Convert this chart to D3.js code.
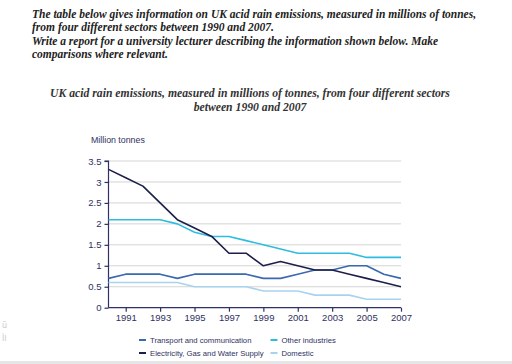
<!DOCTYPE html>
<html>
<head>
<meta charset="utf-8">
<script src="https://cdn.jsdelivr.net/npm/d3@7"></script>
<style>
  body { margin: 0; background: #fff; }
  svg { display: block; }
</style>
</head>
<body>
<div id="chart"></div>
<script>
// data
var years = d3.range(1990, 2008);
var transport   = [0.7, 0.8, 0.8, 0.8, 0.7, 0.8, 0.8, 0.8, 0.8, 0.7, 0.7, 0.8, 0.9, 0.9, 1.0, 1.0, 0.8, 0.7];
var electricity = [3.3, 3.1, 2.9, 2.5, 2.1, 1.9, 1.7, 1.3, 1.3, 1.0, 1.1, 1.0, 0.9, 0.9, 0.8, 0.7, 0.6, 0.5];
var other       = [2.1, 2.1, 2.1, 2.1, 2.0, 1.8, 1.7, 1.7, 1.6, 1.5, 1.4, 1.3, 1.3, 1.3, 1.3, 1.2, 1.2, 1.2];
var domestic    = [0.6, 0.6, 0.6, 0.6, 0.6, 0.5, 0.5, 0.5, 0.5, 0.4, 0.4, 0.4, 0.3, 0.3, 0.3, 0.2, 0.2, 0.2];
var yTicks = [0, 0.5, 1, 1.5, 2, 2.5, 3, 3.5];
var xTicks = [1991, 1993, 1995, 1997, 1999, 2001, 2003, 2005, 2007];

var header = [
  "The table below gives information on UK acid rain emissions, measured in millions of tonnes,",
  "from four different sectors between 1990 and 2007.",
  "Write a report for a university lecturer describing the information shown below. Make",
  "comparisons where relevant."
];
var title = [
  "UK acid rain emissions, measured in millions of tonnes, from four different sectors",
  "between 1990 and 2007"
];

var series = [
  {name: "Transport and communication", values: transport, color: "#3b69ad"},
  {name: "Other industries", values: other, color: "#2cbde0"},
  {name: "Electricity, Gas and Water Supply", values: electricity, color: "#1d1f4b"},
  {name: "Domestic", values: domestic, color: "#a8d3ef"}
];

var width = 512, height = 364;
var svg = d3.select("#chart").append("svg")
  .attr("width", width)
  .attr("height", height);

var textCol = "#2e3163";

// header text
svg.selectAll(".head")
  .data(header)
  .enter().append("text")
    .attr("x", 32)
    .attr("y", function(d, i) { return 18 + [0, 13, 27, 40][i]; })
    .style("font-family", "Liberation Serif, serif")
    .style("font-style", "italic")
    .style("font-weight", "bold")
    .style("font-size", "11.5px")
    .style("fill", "#222")
    .text(function(d) { return d; });

svg.selectAll(".title")
  .data(title)
  .enter().append("text")
    .attr("x", 250)
    .attr("y", function(d, i) { return 97 + i * 14; })
    .attr("text-anchor", "middle")
    .style("font-family", "Liberation Serif, serif")
    .style("font-style", "italic")
    .style("font-weight", "bold")
    .style("font-size", "11.7px")
    .style("fill", "#333")
    .text(function(d) { return d; });

var x = d3.scaleLinear().domain([1990, 2007]).range([108.5, 401]);
var y = d3.scaleLinear().domain([0, 3.5]).range([307.7, 161]);

// grid
svg.selectAll(".grid")
  .data(yTicks.slice(1))
  .enter().append("line")
    .attr("x1", x(1990)).attr("x2", x(2007))
    .attr("y1", function(d) { return y(d); })
    .attr("y2", function(d) { return y(d); })
    .style("stroke", "#d4d4d4")
    .style("stroke-width", 1);

svg.append("text")
  .attr("x", 91).attr("y", 143)
  .style("font-family", "Liberation Sans, Arial, sans-serif")
  .style("font-size", "8.8px")
  .style("fill", textCol)
  .text("Million tonnes");

// axes
var yAxis = svg.append("g")
  .attr("transform", "translate(" + x(1990) + ",0)")
  .call(d3.axisLeft(y).tickValues(yTicks).tickSize(4).tickPadding(3).tickFormat(d3.format("")));
var xAxis = svg.append("g")
  .attr("transform", "translate(0," + y(0) + ")")
  .call(d3.axisBottom(x).tickValues(xTicks).tickSize(4).tickPadding(3).tickFormat(d3.format("d")));

[yAxis, xAxis].forEach(function(g) {
  g.select(".domain").style("stroke", textCol).style("stroke-width", 1.2);
  g.selectAll(".tick line").style("stroke", textCol).style("stroke-width", 1.2);
  g.selectAll(".tick text")
    .style("font-family", "Liberation Sans, Arial, sans-serif")
    .style("font-size", "9.5px")
    .style("fill", textCol);
});
yAxis.select(".domain").attr("d", "M-4," + y(3.5) + "H0V" + y(0));
xAxis.select(".domain").attr("d", "M" + x(1990) + ",0H" + x(2007));

// lines
var line = d3.line()
  .x(function(d, i) { return x(years[i]); })
  .y(function(d) { return y(d); });

svg.selectAll(".line")
  .data([series[3], series[0], series[1], series[2]])
  .enter().append("path")
    .attr("class", "line")
    .attr("d", function(d) { return line(d.values); })
    .style("fill", "none")
    .style("stroke", function(d) { return d.color; })
    .style("stroke-width", 1.6)
    .style("stroke-linejoin", "round");

// legend
var legend = svg.selectAll(".legend")
  .data(series)
  .enter().append("g")
    .attr("transform", function(d, i) {
      return "translate(" + (i % 2 ? 270.5 : 139) + "," + (i < 2 ? 340 : 353) + ")";
    });
legend.append("line")
  .attr("x1", 0).attr("x2", 7)
  .style("stroke", function(d) { return d.color; })
  .style("stroke-width", 2);
legend.append("text")
  .attr("x", 11).attr("y", 2.8)
  .style("font-family", "Liberation Sans, Arial, sans-serif")
  .style("font-size", "7.7px")
  .style("fill", textCol)
  .text(function(d) { return d.name; });

// stray marks at the left edge and bottom band
svg.selectAll(".stray")
  .data(["ü", "اأ"])
  .enter().append("text")
    .attr("x", 2)
    .attr("y", function(d, i) { return 328 + i * 13; })
    .style("font-family", "DejaVu Sans, sans-serif")
    .style("font-size", "8px")
    .style("fill", "#c8c8c8")
    .text(function(d) { return d; });
svg.append("rect")
  .attr("x", 0).attr("y", 361).attr("width", width).attr("height", 3)
  .style("fill", "#e6e6e6");
</script>
</body>
</html>
